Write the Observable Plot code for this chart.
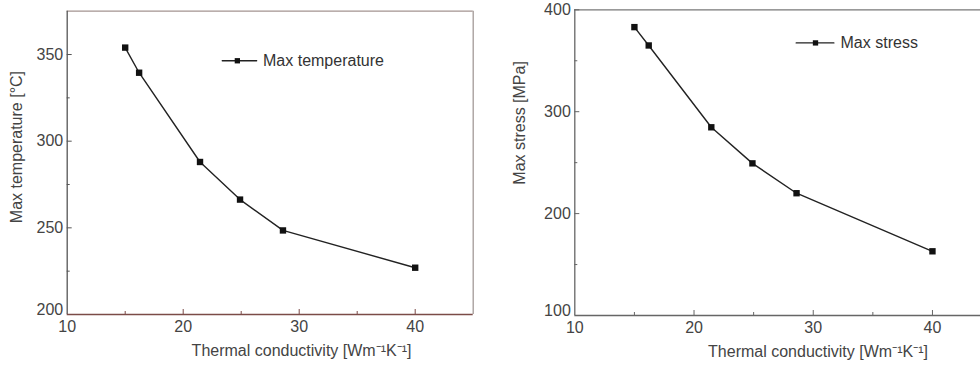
<!DOCTYPE html>
<html><head><meta charset="utf-8">
<script src="https://cdn.jsdelivr.net/npm/d3@7"></script>
<script src="https://cdn.jsdelivr.net/npm/@observablehq/plot@0.6"></script>
<style>
body{margin:0;background:#fff;}
#wrap{display:flex;width:980px;height:366px;overflow:hidden;}
#wrap svg{display:block;}
</style></head><body><div id="wrap"></div>
<script>
// ---- data ----
const conductivity = [15.0, 16.2, 21.45, 24.9, 28.6, 40.0];
const maxTemperature = [354, 339.5, 288, 266.3, 248.5, 227];
const maxStress = [383, 365, 284.7, 249.3, 220, 163];
const xTicks = [10, 20, 30, 40];
const xMinorTicks = [15, 25, 35];
const tempTicks = [200, 250, 300, 350];
const tempMinorTicks = [225, 275, 325];
const stressTicks = [100, 200, 300, 400];
const stressMinorTicks = [150, 250, 350];
const xTitle = "Thermal conductivity [Wm⁻¹K⁻¹]";
const tempTitle = "Max temperature [°C]";
const stressTitle = "Max stress [MPa]";
const tempLegend = "Max temperature";
const stressLegend = "Max stress";

const FONT = "'Liberation Sans', Arial, sans-serif";

function panel(cfg) {
  const rows = conductivity.map((x, i) => ({x, y: cfg.values[i]}));
  const [x0, x1] = cfg.xDomain, [y0, y1] = cfg.yDomain;
  const pw = cfg.width - cfg.ml - cfg.mr, ph = cfg.height - cfg.mt - cfg.mb;
  const ux = (x1 - x0) / pw, uy = (y1 - y0) / ph; // data units per pixel
  const c = cfg.colors;
  const yLabelStyle = {frameAnchor: "left", dx: -4, textAnchor: "end", lineAnchor: "middle", text: d => String(d), fontSize: 16, fill: "#444"};
  const marks = [
    // frame sides
    Plot.ruleY([y1], {stroke: c.top, strokeWidth: 1.3}),
    cfg.rightSide ? Plot.ruleX([x1], {stroke: c.right, strokeWidth: 1.3}) : null,
    Plot.ruleX([x0], {stroke: c.left, strokeWidth: 1.3}),
    Plot.ruleY([y0], {stroke: c.bottom, strokeWidth: 1.3}),
    // inward ticks
    Plot.ruleX(xTicks.slice(1), {x: d => d, y1: y0, y2: y0 + 5 * uy, stroke: c.bottom, strokeWidth: 1}),
    Plot.ruleX(xMinorTicks, {x: d => d, y1: y0, y2: y0 + 3 * uy, stroke: c.bottom, strokeWidth: 1}),
    Plot.ruleY(cfg.yTicks.slice(1), {y: d => d, x1: x0, x2: x0 + 5 * ux, stroke: c.left, strokeWidth: 1}),
    Plot.ruleY(cfg.yMinor, {y: d => d, x1: x0, x2: x0 + 3 * ux, stroke: c.left, strokeWidth: 1}),
    // tick labels
    Plot.text(xTicks, {x: d => d, frameAnchor: "bottom", dy: 12, lineAnchor: "middle", textAnchor: "middle", text: d => String(d), fontSize: 16, fill: "#444"}),
    Plot.text(cfg.yTicks.slice(0, 1), {y: d => d, ...yLabelStyle, dy: -5}),
    Plot.text(cfg.yTicks.slice(1), {y: d => d, ...yLabelStyle}),
    // axis titles
    Plot.text([xTitle], {x: cfg.xTitleAt, frameAnchor: "bottom", dy: 36, lineAnchor: "middle", textAnchor: "middle", text: d => d, fontSize: 16, fill: "#444"}),
    Plot.text([cfg.yTitle], {y: cfg.yTitleAt, frameAnchor: "left", dx: cfg.yTitleDx, rotate: -90, textAnchor: "middle", lineAnchor: "middle", text: d => d, fontSize: 16, fill: "#444"}),
    // data
    Plot.line(rows, {x: "x", y: "y", stroke: "#222", strokeWidth: 1.4}),
    Plot.dot(rows, {x: "x", y: "y", symbol: "square", r: 3.6, fill: "#111", stroke: "none"}),
    // legend
    Plot.line(cfg.legend.line, {x: "x", y: "y", stroke: "#222", strokeWidth: 1.4}),
    Plot.dot([cfg.legend.mark], {x: "x", y: "y", symbol: "square", r: 3, fill: "#111", stroke: "none"}),
    Plot.text([cfg.legend.text], {x: d => d.x, y: d => d.y, text: d => d.label, textAnchor: "start", lineAnchor: "middle", fontSize: 16, fill: "#333"})
  ].filter(Boolean);
  return Plot.plot({
    width: cfg.width, height: cfg.height,
    marginLeft: cfg.ml, marginRight: cfg.mr, marginTop: cfg.mt, marginBottom: cfg.mb,
    style: {fontFamily: FONT, fontSize: "16px", background: "#fff", overflow: "visible"},
    x: {domain: cfg.xDomain, axis: null},
    y: {domain: cfg.yDomain, axis: null},
    marks
  });
}

const left = panel({
  width: 490, height: 366, ml: 66.7, mr: 17.3, mt: 10.7, mb: 52,
  xDomain: [10, 45], yDomain: [200, 375],
  values: maxTemperature, yTicks: tempTicks, yMinor: tempMinorTicks,
  yTitle: tempTitle, yTitleAt: 296.6, yTitleDx: -50, xTitleAt: 30.2,
  rightSide: true,
  colors: {top: "#a39390", right: "#a39a98", left: "#555", bottom: "#7b4b47"},
  legend: {
    line: [{x: 23.37, y: 346.4}, {x: 26.33, y: 346.4}],
    mark: {x: 24.67, y: 346.4},
    text: {x: 26.88, y: 346.4, label: tempLegend}
  }
});
const right = panel({
  width: 490, height: 366, ml: 84.3, mr: 0, mt: 9.3, mb: 51,
  xDomain: [10, 44.03], yDomain: [100, 400],
  values: maxStress, yTicks: stressTicks, yMinor: stressMinorTicks,
  yTitle: stressTitle, yTitleAt: 289, yTitleDx: -55, xTitleAt: 30.4,
  rightSide: false,
  colors: {top: "#777", right: "#777", left: "#666", bottom: "#666"},
  legend: {
    line: [{x: 28.57, y: 367.5}, {x: 31.73, y: 367.5}],
    mark: {x: 30.19, y: 367.5},
    text: {x: 32.29, y: 367.5, label: stressLegend}
  }
});
document.getElementById("wrap").append(left, right);
</script></body></html>
